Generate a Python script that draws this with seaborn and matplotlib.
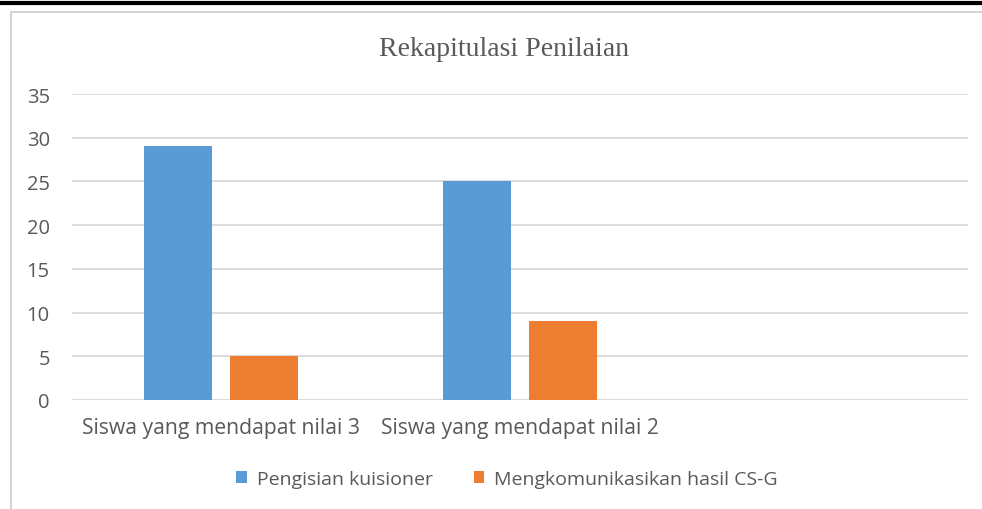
import matplotlib
matplotlib.use("Agg")
import matplotlib.pyplot as plt
import seaborn as sns
import pandas as pd
from matplotlib.lines import Line2D
from matplotlib.patches import Rectangle

# Data
categories = ["Siswa yang mendapat nilai 3", "Siswa yang mendapat nilai 2"]
pengisian = [29, 25]
mengkomunikasikan = [5, 9]
series_names = ["Pengisian kuisioner", "Mengkomunikasikan hasil CS-G"]
yticks = [0, 5, 10, 15, 20, 25, 30, 35]

df = pd.DataFrame({
    "kategori": categories * 2,
    "nilai": pengisian + mengkomunikasikan,
    "seri": [series_names[0]] * 2 + [series_names[1]] * 2,
})

sns.set_theme(style="white")
plt.rcParams["font.family"] = ["Open Sans", "DejaVu Sans"]

text_gray = "#595959"
grid_gray = "#D9D9D9"

fig = plt.figure(figsize=(9.82, 5.10), dpi=100)
ax = fig.add_axes([72 / 982, 1 - 401 / 510, 896 / 982, 306 / 510])

sns.barplot(data=df, x="kategori", y="nilai", hue="seri",
            palette=["#5B9BD5", "#ED7D31"], width=0.575, gap=0.21,
            saturation=1, linewidth=0, ax=ax)

ax.set_xlim(-0.5, 2.5)
ax.set_ylim(0, 35)
ax.set_yticks(yticks)
ax.yaxis.grid(True, color=grid_gray, linewidth=1.3)
ax.set_axisbelow(True)
for s in ax.spines.values():
    s.set_visible(False)
ax.tick_params(axis="y", length=0, pad=16, labelsize=14.5, labelcolor=text_gray)
ax.tick_params(axis="x", length=0, pad=12, labelsize=15.2, labelcolor=text_gray)
ax.set_xlabel("")
ax.set_ylabel("")

ax.legend(loc="center", bbox_to_anchor=(507 / 982, 1 - 480 / 510), bbox_transform=fig.transFigure,
          ncol=2, frameon=False, fontsize=14, handlelength=0.55, handleheight=0.55,
          columnspacing=2.1, handletextpad=0.5, labelcolor=text_gray)

fig.text(504 / 982, 1 - 50 / 510, "Rekapitulasi Penilaian", ha="center", va="center",
         fontsize=20, color=text_gray, family="Liberation Serif")

# page decorations: black rule on top, grey chart frame
fig.add_artist(Line2D([0, 1], [1 - 4 / 510, 1 - 4 / 510], color="black",
                      linewidth=3, transform=fig.transFigure))
fig.add_artist(Rectangle((11 / 982, -0.1), 1.2, 1.1 - 13 / 510, fill=False,
                         edgecolor="#D0D0D0", linewidth=1.3, transform=fig.transFigure))

fig.savefig("out.png", dpi=100)
